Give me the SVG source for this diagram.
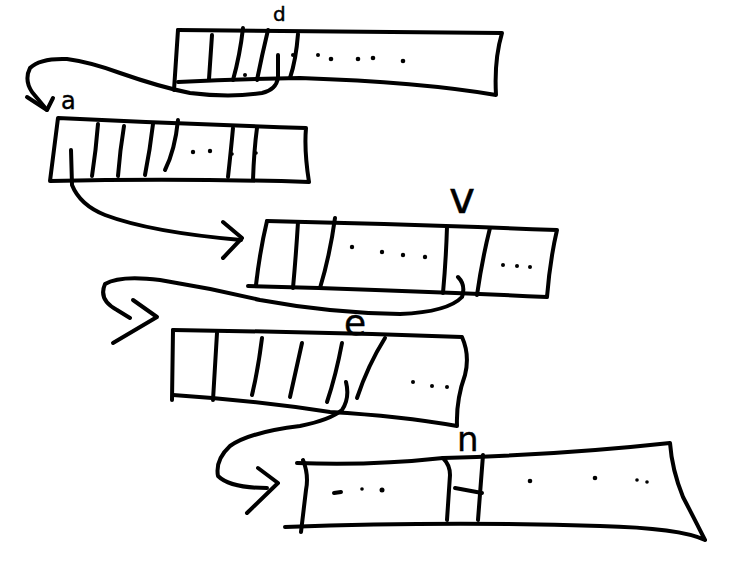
<svg xmlns="http://www.w3.org/2000/svg" width="730" height="571" viewBox="0 0 730 571">
<style>
.s{fill:none;stroke:#000;stroke-width:4;stroke-linecap:round;stroke-linejoin:round}
.d{fill:#000}
.t{font-family:"DejaVu Sans","Liberation Sans",sans-serif;fill:#000;stroke:#000;stroke-width:0.4}
</style>
<rect width="730" height="571" fill="#fff"/>

<g id="strip-d">
<path class="s" d="M178,30 Q340,31 502,33 Q494,60 496,95 Q420,82 300,78 Q240,79 178,82"/>
<path class="s" d="M178,30 L174,90"/>
<path class="s" d="M212,35 L209,79"/>
<path class="s" d="M243,28 Q240,55 233,80"/>
<path class="s" d="M268,30 Q262,55 257,80"/>
<path class="s" d="M298,34 Q296,60 290,78"/>
<circle class="d" cx="245" cy="75" r="2"/>
<circle class="d" cx="293" cy="55" r="2"/>
<circle class="d" cx="318" cy="55" r="2"/>
<circle class="d" cx="331" cy="59" r="2.3"/>
<circle class="d" cx="358" cy="59" r="2.3"/>
<circle class="d" cx="373" cy="58" r="2.3"/>
<circle class="d" cx="403" cy="61" r="2.3"/>
<text class="t" x="273" y="21" font-size="20">d</text>
</g>

<g id="strip-a">
<path class="s" d="M58,118 Q180,124 306,128 Q304,150 309,182 Q180,178 50,181 Z"/>
<path class="s" d="M98,124 Q96,150 92,176"/>
<path class="s" d="M124,126 Q120,150 118,176"/>
<path class="s" d="M153,124 Q150,150 145,175"/>
<path class="s" d="M178,120 Q175,150 165,170"/>
<path class="s" d="M233,128 Q231,150 228,177"/>
<path class="s" d="M257,128 Q254,150 253,180"/>
<circle class="d" cx="193" cy="152" r="2.2"/>
<circle class="d" cx="210" cy="151" r="2.2"/>
<circle class="d" cx="232" cy="154" r="1.8"/>
<circle class="d" cx="256" cy="153" r="1.8"/>
<text class="t" x="61" y="109" font-size="24">a</text>
</g>

<g id="strip-v">
<path class="s" d="M267,221 Q400,224 557,230 Q550,260 547,297 Q400,290 248,286"/>
<path class="s" d="M267,221 Q260,250 256,285"/>
<path class="s" d="M298,222 Q296,255 293,288"/>
<path class="s" d="M335,218 Q330,255 320,288"/>
<path class="s" d="M447,227 Q446,260 443,293"/>
<path class="s" d="M490,228 Q482,260 477,295"/>
<circle class="d" cx="352" cy="247" r="2.2"/>
<circle class="d" cx="382" cy="252" r="2.2"/>
<circle class="d" cx="403" cy="255" r="2.2"/>
<circle class="d" cx="425" cy="257" r="2.2"/>
<circle class="d" cx="503" cy="265" r="2"/>
<circle class="d" cx="517" cy="266" r="2"/>
<circle class="d" cx="530" cy="267" r="2"/>
<text class="t" x="449" y="213" font-size="44">v</text>
</g>

<g id="strip-e">
<path class="s" d="M173,330 Q320,332 462,337 Q470,355 465,375 Q456,400 457,426 Q400,416 330,412 Q250,400 173,395"/>
<path class="s" d="M173,330 L172,400"/>
<path class="s" d="M217,333 Q215,365 213,400"/>
<path class="s" d="M262,338 Q258,370 252,395"/>
<path class="s" d="M302,343 Q296,370 290,397"/>
<path class="s" d="M342,343 Q336,375 327,402"/>
<path class="s" d="M385,338 Q368,365 357,398"/>
<circle class="d" cx="413" cy="382" r="2"/>
<circle class="d" cx="432" cy="386" r="2"/>
<circle class="d" cx="447" cy="387" r="2"/>
<text class="t" x="344" y="335" font-size="36">e</text>
</g>

<g id="strip-n">
<path class="s" d="M297,463 Q370,466 443,458 Q560,455 670,443 Q672,470 683,497 Q695,520 705,540 Q680,528 600,526 Q450,521 285,527"/>
<path class="s" d="M303,460 Q309,475 306,490 L301,532"/>
<path class="s" d="M443,458 Q450,465 450,475 L447,520"/>
<path class="s" d="M483,455 L478,520"/>
<path class="s" d="M455,488 L482,493"/>
<path class="s" d="M334,493 L341,492"/>
<circle class="d" cx="362" cy="489" r="1.8"/>
<circle class="d" cx="382" cy="490" r="2.5"/>
<circle class="d" cx="530" cy="481" r="2.3"/>
<circle class="d" cx="595" cy="478" r="2.3"/>
<circle class="d" cx="637" cy="480" r="1.8"/>
<circle class="d" cx="647" cy="482" r="1.8"/>
<text class="t" x="457" y="451" font-size="34">n</text>
</g>

<g id="connectors">
<path class="s" d="M278,55 L278,78 Q276,90 262,93 Q230,98 190,93 Q160,87 120,73 Q90,62 67,59 Q40,58 30,68 Q24,80 32,92 L47,110"/>
<path class="s" d="M27,97 L47,110 L53,98"/>
<path class="s" d="M71,150 L72,185 Q80,205 105,215 Q150,232 241,240"/>
<path class="s" d="M223,222 L242,238 L223,258"/>
<path class="s" d="M458,277 Q466,285 462,297 Q448,312 400,314 Q330,313 260,300 Q210,288 160,280 Q120,275 105,284 Q98,300 117,310 L130,318"/>
<path class="s" d="M133,300 L157,317 L113,343"/>
<path class="s" d="M346,382 Q350,398 342,410 Q330,420 300,426 Q250,432 230,446 Q215,460 218,476 Q230,488 267,488"/>
<path class="s" d="M258,468 L278,483 L247,513"/>
</g>
</svg>
